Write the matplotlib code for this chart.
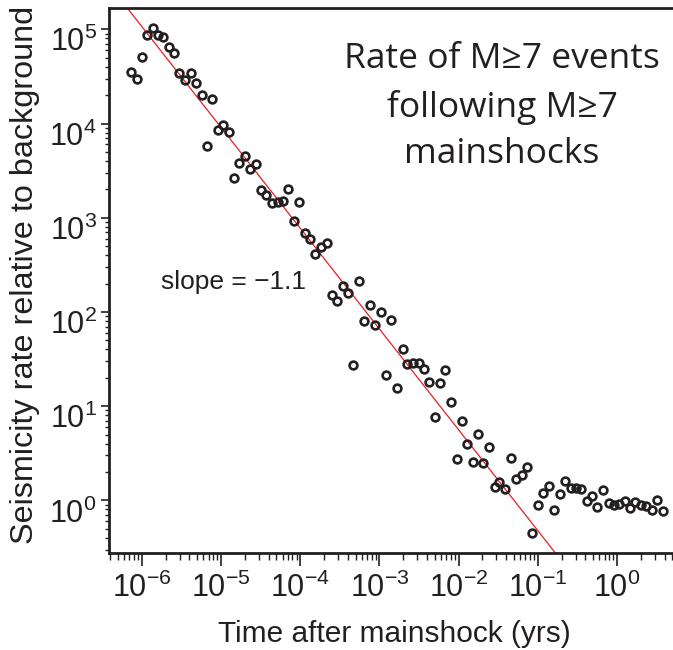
import numpy as np
import matplotlib
matplotlib.use("Agg")
import matplotlib.pyplot as plt
import matplotlib.transforms as mtransforms
from matplotlib.ticker import LogLocator, NullFormatter

# log10 of time after mainshock (yrs)
log_time = [
    -6.139, -6.063, -6.000, -5.937, -5.861, -5.794, -5.727, -5.655, -5.588, -5.525,
    -5.453, -5.381, -5.314, -5.242, -5.179, -5.109, -5.040, -4.970, -4.902, -4.835,
    -4.768, -4.699, -4.633, -4.561, -4.494, -4.427, -4.355, -4.279, -4.212, -4.153,
    -4.077, -4.018, -3.942, -3.875, -3.808, -3.740, -3.664, -3.597, -3.530, -3.462,
    -3.395, -3.328, -3.260, -3.193, -3.124, -3.054, -2.982, -2.915, -2.848, -2.780,
    -2.705, -2.646, -2.571, -2.503, -2.436, -2.369, -2.301, -2.234, -2.167, -2.098,
    -2.023, -1.956, -1.889, -1.821, -1.754, -1.687, -1.619, -1.543, -1.485, -1.409,
    -1.333, -1.274, -1.205, -1.135, -1.068, -1.000, -0.929, -0.861, -0.794, -0.719,
    -0.655, -0.583, -0.516, -0.450, -0.381, -0.314, -0.247, -0.172, -0.104, -0.037,
    0.030, 0.098, 0.165, 0.232, 0.300, 0.367, 0.443, 0.510, 0.578,
]
# log10 of seismicity rate relative to background
log_rate = [
    4.547, 4.476, 4.709, 4.943, 5.014, 4.943, 4.915, 4.809, 4.745, 4.533,
    4.462, 4.539, 4.427, 4.306, 3.761, 4.257, 3.931, 3.984, 3.910, 3.418,
    3.577, 3.655, 3.514, 3.570, 3.294, 3.238, 3.159, 3.167, 3.174, 3.301,
    2.968, 3.167, 2.841, 2.771, 2.615, 2.686, 2.735, 2.183, 2.119, 2.275,
    2.204, 1.433, 2.325, 1.903, 2.076, 1.858, 1.999, 1.327, 1.914, 1.192,
    1.603, 1.447, 1.458, 1.458, 1.391, 1.256, 0.887, 1.242, 1.389, 1.047,
    0.435, 0.845, 0.601, 0.407, 0.707, 0.393, 0.569, 0.138, 0.194, 0.120,
    0.452, 0.226, 0.272, 0.357, -0.347, -0.050, 0.081, 0.153, -0.100, 0.067,
    0.202, 0.131, 0.134, 0.117, -0.004, 0.046, -0.068, 0.109, -0.032, -0.053,
    -0.039, -0.004, -0.082, -0.018, -0.053, -0.061, -0.103, 0.003, -0.117,
]

# power-law fit drawn in red
fit_exponent = -1.07
fit_log_amplitude = -1.39
slope_label = "slope = \u22121.1"

title_lines = ["Rate of M\u22657 events", "following M\u22657", "mainshocks"]
xlabel = "Time after mainshock (yrs)"
ylabel = "Seismicity rate relative to background"

ink = "#231f20"
plt.rcParams["font.family"] = ["Liberation Sans", "DejaVu Sans"]
plt.rcParams["mathtext.default"] = "regular"

fig = plt.figure(figsize=(6.73, 6.5), dpi=100)
ax = fig.add_axes([0.1624, 0.1492, 0.8376, 0.838])

time = 10 ** np.array(log_time)
rate = 10 ** np.array(log_rate)

t_fit = np.logspace(-6.41, 0.708, 200)
ax.plot(t_fit, 10 ** fit_log_amplitude * t_fit ** fit_exponent,
        color="#ee1d23", lw=0.9, zorder=2)
ax.plot(time, rate, "o", ms=5.6, mfc="none", mec=ink, mew=1.9, zorder=3)

ax.set_xscale("log")
ax.set_yscale("log")
ax.set_xlim(10 ** -6.41, 10 ** 0.708)
ax.set_ylim(10 ** -0.559, 10 ** 5.223)

for axis in (ax.xaxis, ax.yaxis):
    axis.set_major_locator(LogLocator(base=10, numticks=20))
    axis.set_minor_locator(LogLocator(base=10, subs=np.arange(2, 10), numticks=100))
    axis.set_minor_formatter(NullFormatter())

ax.spines["right"].set_visible(False)
for side in ("left", "bottom", "top"):
    ax.spines[side].set_linewidth(2)
    ax.spines[side].set_color(ink)

ax.tick_params(axis="both", which="both", direction="out", colors=ink,
               labelsize=22, top=False, right=False)
ax.tick_params(axis="y", which="major", length=6, width=1.2, pad=3)
ax.tick_params(axis="y", which="minor", length=3, width=1.0)
ax.tick_params(axis="x", which="major", length=9, width=1.2, pad=5)
ax.tick_params(axis="x", which="minor", length=5, width=1.0)

ax.text(0.221, 0.498, slope_label, transform=ax.transAxes, ha="center",
        va="center", fontsize=19, color=ink)

baselines = [0.8949, 0.8205, 0.7488]
for line, yb in zip(title_lines, baselines):
    fig.text(0.7459, yb, line, ha="center", va="baseline", fontsize=25.5,
             color=ink, family=["Open Sans", "DejaVu Sans"])

fig.text(0.586, 0.025, xlabel, ha="center", va="center", fontsize=21.5, color=ink)
fig.text(0.037, 0.577, ylabel, ha="center", va="center", rotation=90,
         fontsize=23.3, color=ink)

# the y tick labels sit a little below their ticks in the original
fig.canvas.draw()
shift = mtransforms.ScaledTranslation(0, -0.10, fig.dpi_scale_trans)
for lab in ax.get_yticklabels():
    lab.set_transform(lab.get_transform() + shift)

fig.savefig("out.png", dpi=100)
